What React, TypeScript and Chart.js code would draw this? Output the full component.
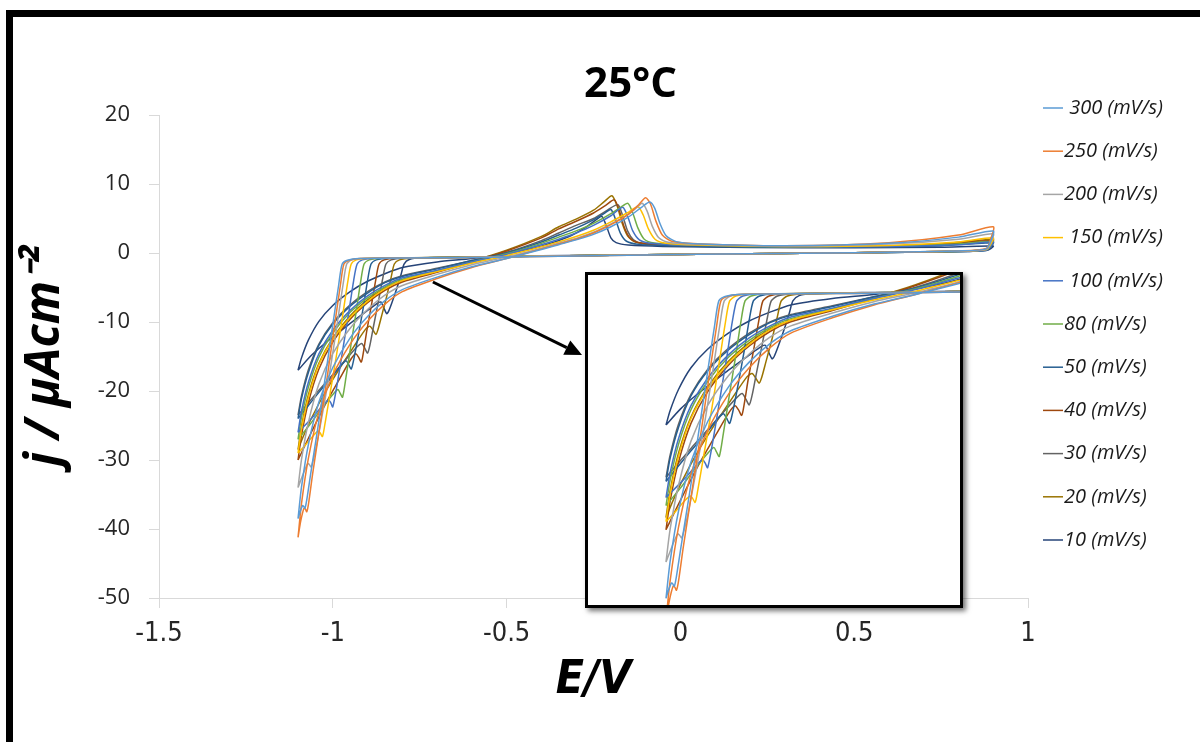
import React, { useEffect, useRef } from 'react';
import { Chart, registerables } from 'chart.js';

Chart.register(...registerables);

// ---------- data ----------
const rateLabels = [' 300 (mV/s)', '250 (mV/s)', '200 (mV/s)', ' 150 (mV/s)', ' 100 (mV/s)', '80 (mV/s)', '50 (mV/s)', '40 (mV/s)', '30 (mV/s)', '20 (mV/s)', '10 (mV/s)'];
const rateColors = ['#5B9BD5', '#ED7D31', '#A5A5A5', '#FFC000', '#4472C4', '#70AD47', '#255E91', '#9E480E', '#636363', '#997300', '#264478'];

const cv300: [number, number][] = [
  [-1.1, -38.5], [-1.09, -33.9], [-1.07, -27.7], [-1.04, -21.6], [-1.0, -16.6], [-0.95, -12.3], [-0.9, -9.2], [-0.85, -6.9], [-0.8, -5.3], [-0.7, -3.5], [-0.6, -2.0], [-0.5, -0.8], [-0.4, 0.5], [-0.35, 1.2], [-0.3, 1.9], [-0.25, 2.7], [-0.2, 3.8], [-0.15, 5.2], [-0.11, 6.7], [-0.088, 7.4], [-0.074, 6.5], [-0.059, 4.3], [-0.041, 2.5], [-0.012, 1.65], [0.06, 1.3], [0.3, 1.05], [0.6, 1.4], [0.8, 2.3], [0.9, 3.2],
  [0.893, 1.8], [0.88, 0.6], [0.8, 0.3], [0.5, 0.05], [0.2, -0.1], [-0.1, -0.3], [-0.4, -0.5], [-0.6, -0.65], [-0.925, -0.8], [-0.958, -1.05], [-0.973, -1.6], [-0.983, -4.6], [-1.0, -10.4], [-1.02, -17.4], [-1.042, -25], [-1.063, -31.8], [-1.075, -35.8], [-1.08, -37], [-1.084, -36.7], [-1.087, -36.6], [-1.094, -37.5], [-1.1, -38.5],
];
const cv250: [number, number][] = [
  [-1.1, -41.2], [-1.09, -36.3], [-1.07, -29.7], [-1.04, -23.1], [-1.0, -17.7], [-0.95, -13.2], [-0.9, -9.9], [-0.85, -7.4], [-0.8, -5.6], [-0.7, -3.7], [-0.6, -2.1], [-0.5, -0.8], [-0.4, 0.6], [-0.35, 1.3], [-0.3, 2.0], [-0.25, 2.9], [-0.2, 4.1], [-0.15, 5.6], [-0.12, 7.0], [-0.1, 8.0], [-0.086, 7.1], [-0.071, 4.7], [-0.052, 2.6], [-0.025, 1.7], [0.05, 1.35], [0.3, 1.05], [0.6, 1.5], [0.8, 2.6], [0.9, 3.8],
  [0.893, 2.1], [0.88, 0.65], [0.8, 0.3], [0.5, 0.05], [0.2, -0.1], [-0.1, -0.3], [-0.4, -0.5], [-0.6, -0.65], [-0.92, -0.8], [-0.953, -1.05], [-0.968, -1.6], [-0.978, -4.6], [-0.995, -10.5], [-1.015, -17.6], [-1.037, -25], [-1.058, -32], [-1.07, -36.4], [-1.075, -37.5], [-1.079, -37.1], [-1.083, -37.0], [-1.092, -38.8], [-1.1, -41.2],
];
const cv200: [number, number][] = [
  [-1.1, -34], [-1.09, -29.9], [-1.07, -24.5], [-1.04, -19], [-1.0, -14.6], [-0.95, -10.9], [-0.9, -8.2], [-0.85, -6.1], [-0.8, -4.7], [-0.7, -3.1], [-0.6, -1.7], [-0.5, -0.6], [-0.4, 0.7], [-0.35, 1.4], [-0.3, 2.1], [-0.25, 3.0], [-0.2, 4.2], [-0.15, 5.6], [-0.125, 6.6], [-0.11, 7.2], [-0.096, 6.1], [-0.081, 3.9], [-0.062, 2.2], [-0.035, 1.55], [0.05, 1.25], [0.3, 1.0], [0.6, 1.3], [0.8, 2.0], [0.9, 2.8],
  [0.893, 1.6], [0.88, 0.55], [0.8, 0.28], [0.5, 0.05], [0.2, -0.1], [-0.1, -0.25], [-0.4, -0.45], [-0.6, -0.6], [-0.91, -0.75], [-0.945, -1.0], [-0.96, -1.6], [-0.97, -4.4], [-0.986, -9.8], [-1.006, -16.4], [-1.028, -22.8], [-1.048, -28.2], [-1.062, -31], [-1.067, -30.7], [-1.072, -30.5], [-1.085, -32], [-1.1, -34],
];
const cv150: [number, number][] = [
  [-1.1, -29], [-1.09, -25.5], [-1.07, -20.9], [-1.04, -16.2], [-1.0, -12.5], [-0.95, -9.3], [-0.9, -7.0], [-0.85, -5.2], [-0.8, -4.0], [-0.7, -2.7], [-0.6, -1.5], [-0.5, -0.4], [-0.4, 0.9], [-0.35, 1.6], [-0.3, 2.4], [-0.25, 3.3], [-0.2, 4.5], [-0.15, 5.9], [-0.122, 6.7], [-0.107, 5.5], [-0.092, 3.5], [-0.073, 2.0], [-0.045, 1.45], [0.05, 1.15], [0.3, 0.95], [0.6, 1.1], [0.8, 1.6], [0.9, 2.2],
  [0.893, 1.3], [0.88, 0.5], [0.8, 0.25], [0.5, 0.05], [0.2, -0.1], [-0.1, -0.25], [-0.4, -0.45], [-0.6, -0.6], [-0.9, -0.75], [-0.932, -1.0], [-0.947, -1.6], [-0.957, -4.2], [-0.972, -9.2], [-0.99, -15], [-1.01, -21], [-1.024, -25.2], [-1.03, -26.6], [-1.036, -26.1], [-1.042, -25.8], [-1.055, -26.4], [-1.08, -27.9], [-1.1, -29],
];
const cv100: [number, number][] = [
  [-1.1, -26], [-1.09, -22.9], [-1.07, -18.7], [-1.04, -14.6], [-1.0, -11.2], [-0.95, -8.3], [-0.9, -6.2], [-0.85, -4.7], [-0.8, -3.6], [-0.7, -2.5], [-0.6, -1.3], [-0.5, -0.2], [-0.4, 1.2], [-0.35, 2.0], [-0.3, 2.9], [-0.25, 4.0], [-0.2, 5.4], [-0.18, 6.2], [-0.165, 6.6], [-0.151, 5.2], [-0.137, 3.2], [-0.118, 1.9], [-0.085, 1.4], [0.0, 1.15], [0.3, 0.9], [0.6, 0.95], [0.8, 1.2], [0.9, 1.6],
  [0.893, 1.0], [0.88, 0.4], [0.8, 0.2], [0.5, 0.05], [0.2, -0.1], [-0.1, -0.25], [-0.4, -0.45], [-0.6, -0.6], [-0.88, -0.75], [-0.915, -1.0], [-0.93, -1.6], [-0.94, -4.0], [-0.954, -8.6], [-0.97, -13.6], [-0.986, -18.6], [-1.0, -22.3], [-1.006, -21.7], [-1.012, -21.3], [-1.025, -21.9], [-1.06, -23.9], [-1.1, -26],
];
const cv80: [number, number][] = [
  [-1.1, -27], [-1.09, -23.8], [-1.07, -19.4], [-1.04, -15.1], [-1.0, -11.6], [-0.95, -8.6], [-0.9, -6.5], [-0.85, -4.9], [-0.8, -3.8], [-0.7, -2.6], [-0.6, -1.3], [-0.5, -0.1], [-0.4, 1.4], [-0.35, 2.3], [-0.3, 3.2], [-0.25, 4.3], [-0.2, 5.7], [-0.17, 6.7], [-0.151, 7.2], [-0.137, 5.8], [-0.122, 3.6], [-0.104, 2.0], [-0.075, 1.45], [0.0, 1.2], [0.3, 0.9], [0.6, 1.0], [0.8, 1.3], [0.9, 1.7],
  [0.893, 1.05], [0.88, 0.45], [0.8, 0.22], [0.5, 0.05], [0.2, -0.1], [-0.1, -0.25], [-0.4, -0.45], [-0.6, -0.6], [-0.86, -0.75], [-0.895, -1.0], [-0.91, -1.6], [-0.92, -4.2], [-0.933, -8.6], [-0.948, -13.4], [-0.962, -18.0], [-0.972, -20.9], [-0.979, -20.3], [-0.985, -19.8], [-0.998, -20.4], [-1.03, -22.4], [-1.065, -24.8], [-1.1, -27],
];
const cv50: [number, number][] = [
  [-1.1, -24], [-1.09, -21.1], [-1.07, -17.3], [-1.04, -13.4], [-1.0, -10.3], [-0.95, -7.7], [-0.9, -5.8], [-0.85, -4.3], [-0.8, -3.4], [-0.7, -2.3], [-0.6, -1.1], [-0.5, 0.0], [-0.4, 1.6], [-0.35, 2.6], [-0.3, 3.6], [-0.25, 4.8], [-0.22, 5.7], [-0.2, 6.3], [-0.186, 4.8], [-0.172, 2.8], [-0.155, 1.7], [-0.12, 1.25], [-0.04, 1.05], [0.2, 0.85], [0.5, 0.85], [0.75, 1.05], [0.9, 1.5],
  [0.893, 0.95], [0.88, 0.4], [0.8, 0.2], [0.5, 0.05], [0.2, -0.1], [-0.1, -0.25], [-0.4, -0.45], [-0.6, -0.6], [-0.84, -0.75], [-0.875, -1.0], [-0.89, -1.6], [-0.9, -4.0], [-0.912, -7.8], [-0.926, -11.8], [-0.938, -15.0], [-0.947, -16.8], [-0.955, -16.1], [-0.962, -15.6], [-0.975, -16.2], [-1.0, -17.8], [-1.04, -20.2], [-1.075, -22.4], [-1.1, -24],
];
const cv40: [number, number][] = [
  [-1.1, -30], [-1.09, -26.4], [-1.07, -21.6], [-1.04, -16.8], [-1.0, -12.9], [-0.95, -9.6], [-0.9, -7.2], [-0.85, -5.4], [-0.8, -4.2], [-0.7, -2.8], [-0.6, -1.3], [-0.5, 0.3], [-0.4, 2.2], [-0.35, 3.5], [-0.3, 4.6], [-0.25, 5.8], [-0.215, 6.9], [-0.19, 7.7], [-0.176, 6.2], [-0.162, 3.8], [-0.146, 2.2], [-0.125, 1.55], [-0.06, 1.2], [0.2, 0.95], [0.5, 0.95], [0.75, 1.25], [0.9, 1.8],
  [0.893, 1.15], [0.88, 0.5], [0.8, 0.25], [0.5, 0.05], [0.2, -0.1], [-0.1, -0.25], [-0.4, -0.45], [-0.6, -0.6], [-0.82, -0.75], [-0.852, -1.0], [-0.867, -1.6], [-0.876, -3.8], [-0.888, -7.3], [-0.902, -11.2], [-0.912, -14.4], [-0.918, -15.8], [-0.926, -15.1], [-0.934, -14.6], [-0.948, -15.4], [-0.98, -18.2], [-1.02, -21.8], [-1.06, -25.8], [-1.085, -28.4], [-1.1, -30],
];
const cv30: [number, number][] = [
  [-1.1, -23.5], [-1.09, -20.7], [-1.07, -16.9], [-1.04, -13.2], [-1.0, -10.1], [-0.95, -7.5], [-0.9, -5.6], [-0.85, -4.2], [-0.8, -3.3], [-0.7, -2.2], [-0.6, -1.1], [-0.5, 0.1], [-0.4, 1.8], [-0.35, 2.9], [-0.3, 4.0], [-0.25, 5.0], [-0.21, 6.2], [-0.18, 7.0], [-0.166, 5.4], [-0.152, 3.2], [-0.135, 1.9], [-0.11, 1.35], [-0.04, 1.1], [0.2, 0.9], [0.5, 0.85], [0.75, 1.1], [0.9, 1.6],
  [0.893, 1.0], [0.88, 0.45], [0.8, 0.22], [0.5, 0.05], [0.2, -0.1], [-0.1, -0.25], [-0.4, -0.45], [-0.6, -0.6], [-0.8, -0.75], [-0.832, -1.0], [-0.847, -1.6], [-0.856, -3.6], [-0.868, -6.8], [-0.882, -10.4], [-0.893, -13.3], [-0.9, -14.5], [-0.908, -13.8], [-0.917, -13.1], [-0.93, -13.6], [-0.96, -15.3], [-1.0, -17.6], [-1.04, -19.9], [-1.075, -22], [-1.1, -23.5],
];
const cv20: [number, number][] = [
  [-1.1, -28.5], [-1.09, -25.1], [-1.07, -20.5], [-1.04, -16], [-1.0, -12.3], [-0.95, -9.1], [-0.9, -6.8], [-0.85, -5.1], [-0.8, -4.0], [-0.7, -2.6], [-0.6, -1.2], [-0.5, 0.4], [-0.4, 2.4], [-0.35, 3.8], [-0.3, 4.9], [-0.25, 6.2], [-0.22, 7.4], [-0.197, 8.3], [-0.182, 6.8], [-0.168, 4.4], [-0.152, 2.5], [-0.13, 1.6], [-0.06, 1.2], [0.2, 0.95], [0.5, 0.9], [0.75, 1.3], [0.9, 2.0],
  [0.893, 1.25], [0.88, 0.5], [0.8, 0.25], [0.5, 0.05], [0.2, -0.1], [-0.1, -0.25], [-0.4, -0.45], [-0.6, -0.6], [-0.775, -0.75], [-0.808, -1.0], [-0.823, -1.6], [-0.832, -3.5], [-0.845, -6.3], [-0.86, -9.2], [-0.87, -11.1], [-0.876, -11.8], [-0.884, -11.2], [-0.893, -10.6], [-0.905, -11.0], [-0.94, -13.6], [-0.98, -16.7], [-1.02, -20], [-1.06, -23.8], [-1.085, -26.6], [-1.1, -28.5],
];
const cv10: [number, number][] = [
  [-1.1, -17], [-1.09, -15.2], [-1.07, -12.6], [-1.04, -9.9], [-1.0, -7.6], [-0.95, -5.6], [-0.9, -4.1], [-0.85, -3.0], [-0.8, -2.1], [-0.7, -1.3], [-0.6, -0.8], [-0.5, -0.1], [-0.4, 1.0], [-0.32, 2.4], [-0.27, 3.8], [-0.24, 4.9], [-0.226, 5.3], [-0.212, 3.8], [-0.2, 2.2], [-0.185, 1.5], [-0.15, 1.15], [-0.05, 0.95], [0.2, 0.8], [0.5, 0.75], [0.75, 0.85], [0.9, 1.0],
  [0.893, 0.65], [0.88, 0.35], [0.8, 0.2], [0.5, 0.05], [0.2, -0.1], [-0.1, -0.25], [-0.4, -0.4], [-0.6, -0.55], [-0.745, -0.7], [-0.78, -0.95], [-0.795, -1.6], [-0.803, -3.0], [-0.815, -5.0], [-0.83, -7.2], [-0.84, -8.5], [-0.845, -8.8], [-0.852, -8.1], [-0.862, -7.1], [-0.875, -7.4], [-0.91, -8.7], [-0.95, -10.2], [-0.99, -11.8], [-1.03, -13.4], [-1.065, -15], [-1.1, -17],
];

const seriesPoints = [cv300, cv250, cv200, cv150, cv100, cv80, cv50, cv40, cv30, cv20, cv10];

const xTickMin = -1.5;
const xTickMax = 1;
const xTickStep = 0.5;
const yTickMin = -50;
const yTickMax = 20;
const yTickStep = 10;

const chartTitle = '25°C';
const xTitle = 'E/V';
const yTitle = 'j / μAcm⁻²';

// inset (zoomed view) window, in data units
const insetXRange = [-1.2875, -0.3933];
const insetYRange = [-39.33, 1.61];
// arrow from the main curve towards the inset, in data units
const arrowFrom = [-0.712, -4.2];
const arrowTo = [-0.283, -14.8];

const condensedFamily = "'DejaVu Sans Condensed', 'Liberation Sans', sans-serif";

function makeDatasets(width: number) {
  return seriesPoints.map((pts, i) => ({
    label: rateLabels[i],
    data: pts.map(([x, y]) => ({ x, y })),
    borderColor: rateColors[i],
    backgroundColor: rateColors[i],
    borderWidth: width,
    pointRadius: 0,
    pointHoverRadius: 0,
    showLine: true,
    fill: false,
    tension: 0.25,
  }));
}

const arrowPlugin = {
  id: 'arrowPlugin',
  afterDatasetsDraw(chart: any) {
    const { ctx, scales } = chart;
    const x1 = scales.x.getPixelForValue(arrowFrom[0]);
    const y1 = scales.y.getPixelForValue(arrowFrom[1]);
    const x2 = scales.x.getPixelForValue(arrowTo[0]);
    const y2 = scales.y.getPixelForValue(arrowTo[1]);
    const ang = Math.atan2(y2 - y1, x2 - x1);
    const head = 17;
    const hw = 8;
    const bx = x2 - head * Math.cos(ang);
    const by = y2 - head * Math.sin(ang);
    ctx.save();
    ctx.strokeStyle = '#000';
    ctx.fillStyle = '#000';
    ctx.lineWidth = 3;
    ctx.beginPath();
    ctx.moveTo(x1, y1);
    ctx.lineTo(bx, by);
    ctx.stroke();
    ctx.beginPath();
    ctx.moveTo(x2, y2);
    ctx.lineTo(bx + hw * Math.sin(ang), by - hw * Math.cos(ang));
    ctx.lineTo(bx - hw * Math.sin(ang), by + hw * Math.cos(ang));
    ctx.closePath();
    ctx.fill();
    ctx.restore();
  },
};

const titleLegendPlugin = {
  id: 'titleLegendPlugin',
  afterDraw(chart: any) {
    const { ctx, chartArea } = chart;
    ctx.save();
    // title
    ctx.fillStyle = '#000';
    ctx.font = "bold 42px 'Open Sans', sans-serif";
    ctx.textAlign = 'center';
    ctx.textBaseline = 'middle';
    ctx.fillText(chartTitle, (chartArea.left + chartArea.right) / 2 + 37, 85);
    // legend
    ctx.font = "italic 20px 'Open Sans', sans-serif";
    ctx.textAlign = 'left';
    const x0 = chartArea.right + 15;
    chart.data.datasets.forEach((ds: any, i: number) => {
      const y = chartArea.top - 7 + i * 43.2;
      ctx.strokeStyle = ds.borderColor;
      ctx.lineWidth = 1.5;
      ctx.beginPath();
      ctx.moveTo(x0, y);
      ctx.lineTo(x0 + 20, y);
      ctx.stroke();
      ctx.fillStyle = '#1a1a1a';
      ctx.fillText(ds.label, x0 + 21, y);
    });
    ctx.restore();
  },
};

export default function App() {
  const mainRef = useRef<HTMLCanvasElement | null>(null);
  const insetRef = useRef<HTMLCanvasElement | null>(null);

  useEffect(() => {
    if (!mainRef.current || !insetRef.current) return;
    const axisGray = '#d9d9d9';
    const main = new Chart(mainRef.current, {
      type: 'scatter',
      data: { datasets: makeDatasets(1.5) as any },
      options: {
        animation: false,
        responsive: false,
        events: [],
        layout: { padding: { left: 0, top: 115, right: 172, bottom: 0 } },
        plugins: { legend: { display: false }, tooltip: { enabled: false }, title: { display: false } },
        scales: {
          x: {
            type: 'linear',
            min: xTickMin,
            max: xTickMax,
            afterFit: (s: any) => { s.height = 144; },
            ticks: {
              stepSize: xTickStep,
              padding: 10,
              color: '#262626',
              font: { family: condensedFamily, size: 27 },
              callback: (v: any) => String(v),
            },
            grid: { drawOnChartArea: false, drawTicks: true, tickLength: 10, color: axisGray },
            border: { display: true, color: axisGray },
            title: {
              display: true,
              text: xTitle,
              color: '#000',
              font: { family: condensedFamily, size: 46, weight: 'bold', style: 'italic', lineHeight: 1 },
              padding: { top: 0, bottom: 38 },
            },
          },
          y: {
            type: 'linear',
            min: yTickMin,
            max: yTickMax,
            afterFit: (s: any) => { s.width = 159; },
            ticks: {
              stepSize: yTickStep,
              padding: 19,
              color: '#262626',
              font: { family: "'Open Sans', sans-serif", size: 22 },
              callback: (v: any) => String(v),
            },
            grid: { drawOnChartArea: false, drawTicks: true, tickLength: 10, color: axisGray },
            border: { display: true, color: axisGray },
            title: {
              display: true,
              text: yTitle,
              color: '#000',
              font: { family: "'Open Sans', sans-serif", size: 48, weight: 'bold', style: 'italic', lineHeight: 1 },
              padding: { top: 21, bottom: 0 },
            },
          },
        },
      } as any,
      plugins: [arrowPlugin, titleLegendPlugin],
    });

    const inset = new Chart(insetRef.current, {
      type: 'scatter',
      data: { datasets: makeDatasets(1.5) as any },
      options: {
        animation: false,
        responsive: false,
        events: [],
        layout: { padding: 0 },
        plugins: { legend: { display: false }, tooltip: { enabled: false } },
        scales: {
          x: { type: 'linear', display: false, min: insetXRange[0], max: insetXRange[1] },
          y: { type: 'linear', display: false, min: insetYRange[0], max: insetYRange[1] },
        },
      } as any,
    });

    return () => {
      main.destroy();
      inset.destroy();
    };
  }, []);

  return (
    <div style={{ position: 'absolute', left: 0, top: 0, width: 1200, height: 742, overflow: 'hidden', background: '#fff' }}>
      <canvas ref={mainRef} width={1200} height={742} style={{ position: 'absolute', left: 0, top: 0, width: 1200, height: 742 }} />
      <div
        style={{
          position: 'absolute', left: 585, top: 272, width: 378, height: 336,
          border: '3px solid #000', boxSizing: 'border-box', background: '#fff',
          boxShadow: '3px 3px 5px rgba(0,0,0,0.55)',
        }}
      >
        <canvas ref={insetRef} width={372} height={330} style={{ display: 'block', width: 372, height: 330 }} />
      </div>
      <div
        style={{
          position: 'absolute', left: 6, top: 10, width: 1300, height: 800,
          borderTop: '7px solid #000', borderLeft: '7px solid #000', pointerEvents: 'none',
        }}
      />
    </div>
  );
}
